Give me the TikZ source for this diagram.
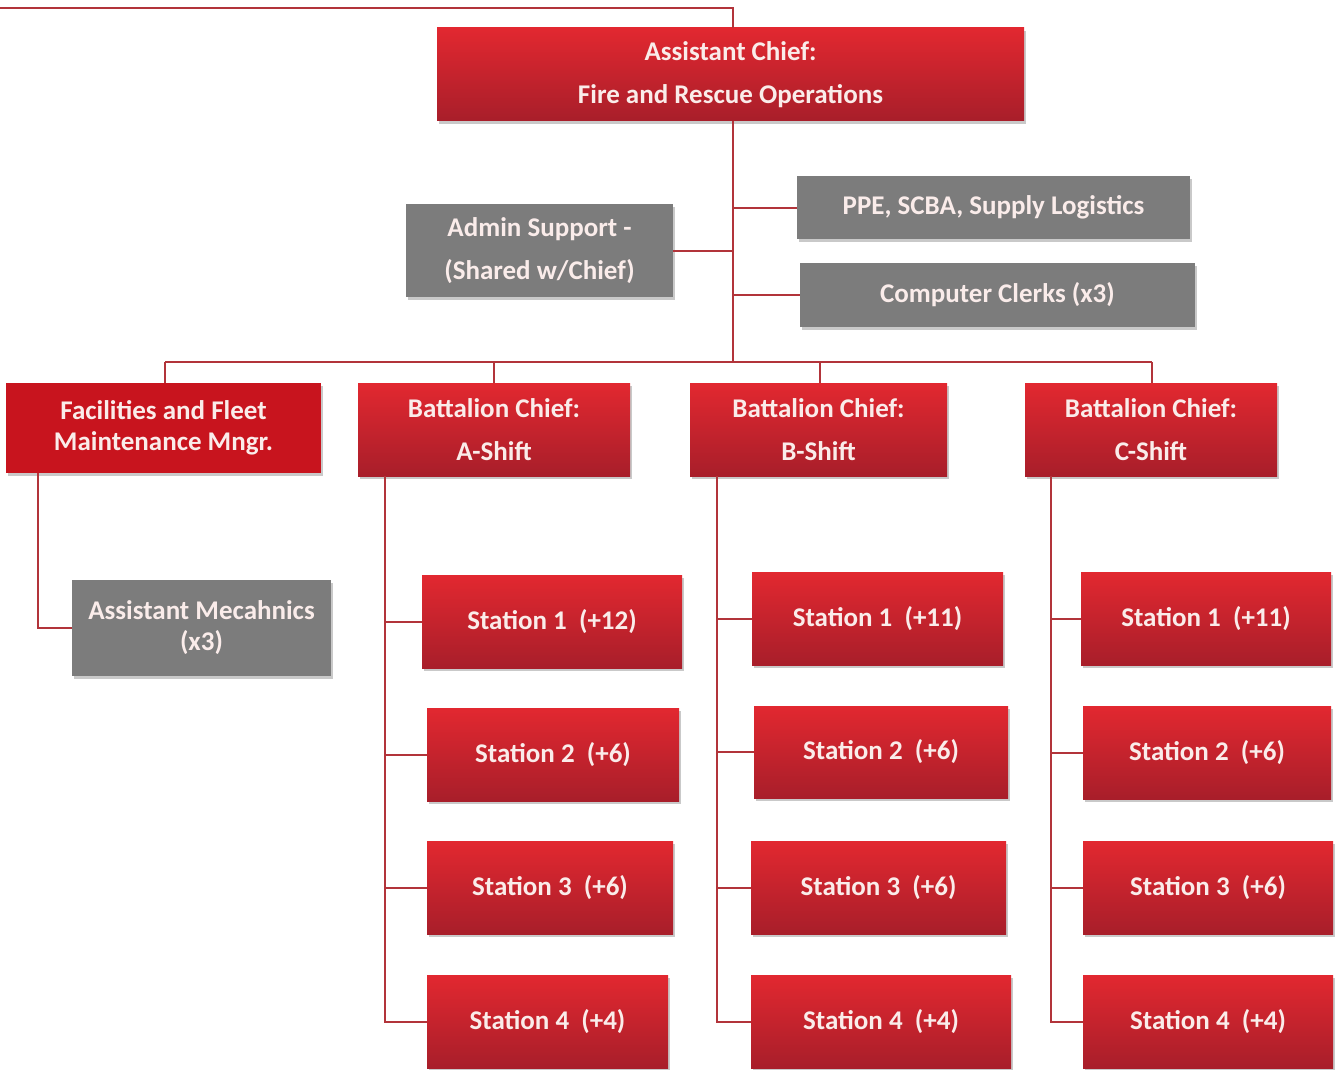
\documentclass[tikz,border=0pt]{standalone}
\usepackage{fontspec}
\setmainfont{Carlito}
\usetikzlibrary{shadows}
\definecolor{redtop}{RGB}{226,40,48}
\definecolor{redbot}{RGB}{168,30,42}
\definecolor{redflat}{RGB}{200,20,30}
\definecolor{boxgray}{RGB}{124,124,124}
\definecolor{linered}{RGB}{178,52,58}
\definecolor{txt}{RGB}{250,236,234}
\begin{document}
\begin{tikzpicture}[x=1pt,y=-1pt,
  base/.style={inner sep=0pt, align=center, text=txt,
    drop shadow={shadow xshift=1.5pt, shadow yshift=-3pt, opacity=0.35, fill=black!60}},
  spaced/.style={font=\fontsize{27}{43}\selectfont\bfseries},
  tight/.style={font=\fontsize{27}{31}\selectfont\bfseries},
  redbox/.style={base, top color=redtop, bottom color=redbot, draw=none},
  flatred/.style={base, fill=redflat},
  graybox/.style={base, fill=boxgray},
  conn/.style={draw=linered, line width=2pt}]
\useasboundingbox (0,0) rectangle (1335,1070);
\fill[white] (0,0) rectangle (1335,1070);

% named coordinates
\coordinate (topIn) at (0,8);
\coordinate (trunk) at (733,362);
\coordinate (busL) at (165,362);
\coordinate (busR) at (1152,362);
\coordinate (fL) at (38,473);
\coordinate (aL) at (385,476);
\coordinate (bL) at (717,476);
\coordinate (cL) at (1051,476);

% top
\node[redbox, spaced, minimum width=587pt, minimum height=93pt] (top) at (730.5,74.5) {Assistant Chief:\\Fire and Rescue Operations};

% staff
\node[graybox, spaced, minimum width=393pt, minimum height=63pt] (ppe) at (993.5,207.5) {PPE, SCBA, Supply Logistics};
\node[graybox, spaced, minimum width=267pt, minimum height=93pt] (admin) at (539.5,250.5) {Admin Support -\\(Shared w/Chief)};
\node[graybox, spaced, minimum width=395pt, minimum height=64pt] (clerks) at (997.5,295) {Computer Clerks (x3)};

% second level
\node[flatred, tight, minimum width=315pt, minimum height=90pt] (fac) at (163.5,428) {Facilities and Fleet\\Maintenance Mngr.};
\node[redbox, spaced, minimum width=272pt, minimum height=93pt] (bca) at (494,429.5) {Battalion Chief:\\A-Shift};
\node[redbox, spaced, minimum width=257pt, minimum height=93pt] (bcb) at (818.5,429.5) {Battalion Chief:\\B-Shift};
\node[redbox, spaced, minimum width=252pt, minimum height=93pt] (bcc) at (1151,429.5) {Battalion Chief:\\C-Shift};

% mechanics
\node[graybox, tight, minimum width=259pt, minimum height=96pt] (mech) at (201.5,628) {Assistant Mecahnics\\(x3)};

% stations A
\node[redbox, spaced, minimum width=260pt, minimum height=93pt] (a1) at (552,621.5) {Station 1\ \ (+12)};
\node[redbox, spaced, minimum width=252pt, minimum height=93pt] (a2) at (553,754.5) {Station 2\ \ (+6)};
\node[redbox, spaced, minimum width=246pt, minimum height=93pt] (a3) at (550,887.5) {Station 3\ \ (+6)};
\node[redbox, spaced, minimum width=241pt, minimum height=93pt] (a4) at (547.5,1021.5) {Station 4\ \ (+4)};
% stations B
\node[redbox, spaced, minimum width=251pt, minimum height=93pt] (b1) at (877.5,618.5) {Station 1\ \ (+11)};
\node[redbox, spaced, minimum width=254pt, minimum height=92pt] (b2) at (881,752) {Station 2\ \ (+6)};
\node[redbox, spaced, minimum width=255pt, minimum height=93pt] (b3) at (878.5,887.5) {Station 3\ \ (+6)};
\node[redbox, spaced, minimum width=260pt, minimum height=93pt] (b4) at (881,1021.5) {Station 4\ \ (+4)};
% stations C
\node[redbox, spaced, minimum width=250pt, minimum height=93pt] (c1) at (1206,618.5) {Station 1\ \ (+11)};
\node[redbox, spaced, minimum width=248pt, minimum height=93pt] (c2) at (1207,752.5) {Station 2\ \ (+6)};
\node[redbox, spaced, minimum width=250pt, minimum height=93pt] (c3) at (1208,887.5) {Station 3\ \ (+6)};
\node[redbox, spaced, minimum width=250pt, minimum height=93pt] (c4) at (1208,1021.5) {Station 4\ \ (+4)};

% connectors
\draw[conn] (topIn) -| (top.north -| trunk);
\draw[conn] (top.south -| trunk) -- (trunk);
\draw[conn] (ppe.west) -- (ppe.west -| trunk);
\draw[conn] (admin.east) -- (admin.east -| trunk);
\draw[conn] (clerks.west) -- (clerks.west -| trunk);
\draw[conn] (busL) -- (busR);
\draw[conn] (fac.north -| busL) -- (busL);
\draw[conn] (bca.north) -- (bca.north |- busL);
\draw[conn] ([xshift=1.5pt]bcb.north) -- ([xshift=1.5pt]bcb.north |- busL);
\draw[conn] (bcc.north -| busR) -- (busR);
\draw[conn] (fL) |- (mech.west);
\draw[conn] (aL) |- (a4.west);
\draw[conn] (a1.west) -- (a1.west -| aL);
\draw[conn] (a2.west) -- (a2.west -| aL);
\draw[conn] (a3.west) -- (a3.west -| aL);
\draw[conn] (bL) |- (b4.west);
\draw[conn] (b1.west) -- (b1.west -| bL);
\draw[conn] (b2.west) -- (b2.west -| bL);
\draw[conn] (b3.west) -- (b3.west -| bL);
\draw[conn] (cL) |- (c4.west);
\draw[conn] (c1.west) -- (c1.west -| cL);
\draw[conn] (c2.west) -- (c2.west -| cL);
\draw[conn] (c3.west) -- (c3.west -| cL);
\end{tikzpicture}
\end{document}
